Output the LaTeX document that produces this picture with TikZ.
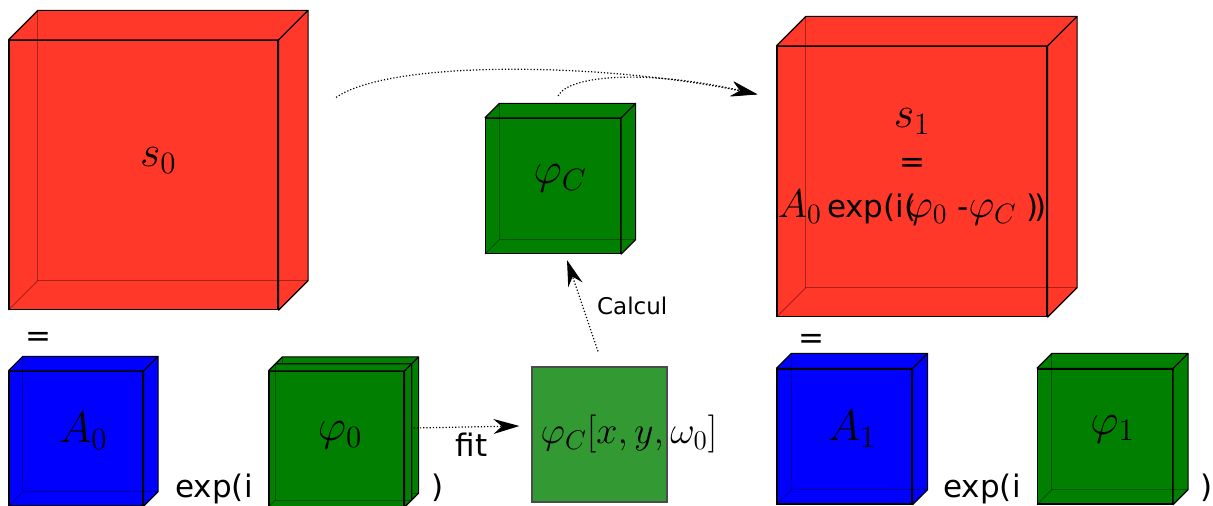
\RequirePackage{fix-cm}
\documentclass[tikz,border=0pt]{standalone}
\usepackage{fontspec}
\setmainfont{DejaVu Sans}
\usetikzlibrary{positioning, arrows.meta}
\definecolor{cubered}{HTML}{FF3829}
\definecolor{cubeblue}{HTML}{0000FF}
\definecolor{cubegreen}{HTML}{007F00}
\definecolor{fitgreen}{HTML}{339933}
\DeclareMathSizes{19}{19}{13.5}{10}
\DeclareMathSizes{20}{20}{14}{10}
\DeclareMathSizes{22}{22}{15.5}{11}
\newcommand{\formsym}[1]{{\fontsize{20}{22.5}\selectfont$#1$}}

\tikzset{
  face/.style={draw=black, line width=0.6pt, minimum size=#1, inner sep=0pt},
  edge/.style={draw=black, line width=0.6pt, line join=round},
  hidden/.style={draw=black, draw opacity=0.35, line width=0.5pt},
  flow/.style={densely dotted, line width=0.6pt, -{Stealth[length=13pt, width=7.5pt]}},
  bigmath/.style={font=\fontsize{22}{26}\selectfont},
  txt/.style={font=\fontsize{15.5}{22.5}\selectfont, inner sep=0pt},
}

% front face is a node, the depth is drawn from its anchors
% #1 name, #2/#3 centre, #4 size, #5 depth, #6 colour, #7 label
\newcommand{\drawcube}[7]{%
  \node[face=#4, fill=#6] (#1) at (#2,#3) {};
  \fill[#6] (#1.north west) -- ++(#5,-#5) -- ([shift={(#5,-#5)}]#1.north east)
    -- ([shift={(#5,-#5)}]#1.south east) -- (#1.south east) -- (#1.north east) -- cycle;
  \draw[hidden] ([shift={(#5,-#5)}]#1.north west) |- ([shift={(#5,-#5)}]#1.south east);
  \draw[hidden] (#1.south west) -- ++(#5,-#5);
  \draw[edge] (#1.north west) -- ++(#5,-#5) -- ([shift={(#5,-#5)}]#1.north east)
    -- ([shift={(#5,-#5)}]#1.south east) -- (#1.south east) -- (#1.north east) -- (#1.north west);
  \draw[edge] (#1.north east) -- ++(#5,-#5);
  \node[bigmath] (#1-l) at ([shift={({#5/2},{-#5/2})}]#1.center) {#7};
}

\begin{document}
\begin{tikzpicture}[x=0.5pt, y=-0.5pt]
  \useasboundingbox (0,0) rectangle (1213,506);

  % Cubes
  \foreach \n/\x/\y/\s/\d/\c/\t in {
      s0/143.5/175/134.5pt/29.5/cubered/{$s_0$},
      phiC/553/186/67.5pt/14.5/cubegreen/{$\varphi_C$},
      s1/912/181.5/135pt/29.5/cubered/{},
      A0/76/438.5/67pt/14.5/cubeblue/{$A_0$},
      phi0b/343.5/432/67.5pt/7/cubegreen/{},
      phi0/336.5/439/67.5pt/7/cubegreen/{$\varphi_0$},
      A1/844.5/436.5/67.5pt/15/cubeblue/{$A_1$},
      phi1/1105/436.5/67.5pt/15/cubegreen/{$\varphi_1$}} {
    \drawcube{\n}{\x}{\y}{\s}{\d}{\c}{\t}
  }

  \node[txt, align=center] (s1-eq) at (912,167)
    {{\fontsize{22}{26}\selectfont$s_1$}\\=\\
     \formsym{A_0}\,exp(i(\kern-.3em\formsym{\varphi_0} -\formsym{\varphi_C} )\kern-.15em)};

  % Fitted phase
  \node[face=67.5pt, fill=fitgreen, draw=black!70] (fitbox) at (599.5,434.5) {};
  \node[font=\fontsize{19}{23}\selectfont, inner sep=0pt] (fitlab) at (629,434) {$\varphi_C[x,y,\omega_0]$};

  % Products
  \node[txt, anchor=base] (eq0) at (38,347) {=};
  \node[txt, anchor=base west] (exp0) at (175,498) {exp(i};
  \node[txt, anchor=base west] (par0) at (431,498) {)};
  \node[txt, anchor=base] (eq1) at (811,349) {=};
  \node[txt, anchor=base west] (exp1) at (943,497) {exp(i};
  \node[txt, anchor=base west] (par1) at (1200,497) {)};

  % Arrows
  \coordinate (s0out) at ([shift={(57.5,57.5)}]s0.north east);
  \coordinate (s1in) at ([shift={(-19,48.5)}]s1.north west);
  \coordinate (phiCout) at ([shift={(5,-22)}]phiC.north);
  \coordinate (calcA) at ([shift={(-1.5,-15)}]fitbox.north);
  \coordinate (calcB) at ([shift={(14,6)}]phiC.south);
  \coordinate (fitA) at ([shift={(9,-11)}]phi0.east);
  \coordinate (fitB) at ([shift={(-12,-8.5)}]fitbox.west);

  \draw[flow] (s0out) .. controls (390,60) and (600,62) .. (s1in);
  \draw[flow] (phiCout) .. controls (570,74) and (650,70) .. (s1in);
  \draw[flow] (calcA) -- node[midway, right=7pt, inner sep=0pt, font=\fontsize{11.5}{14}\selectfont] {Calcul} (calcB);
  \draw[flow] (fitA) -- node[midway, below=2.5pt, xshift=2.5pt, inner sep=0pt, font=\fontsize{15.5}{19}\selectfont] {fit} (fitB);
\end{tikzpicture}
\end{document}
